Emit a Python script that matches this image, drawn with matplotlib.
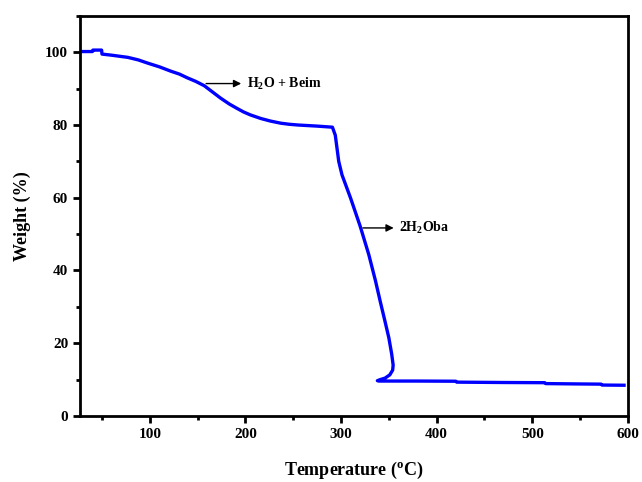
import matplotlib
matplotlib.use("Agg")
import matplotlib.pyplot as plt
from matplotlib.ticker import MultipleLocator

plt.rcParams['font.family'] = 'Liberation Serif'
plt.rcParams['font.weight'] = 'bold'
plt.rcParams['mathtext.fontset'] = 'custom'
plt.rcParams['mathtext.rm'] = 'Liberation Serif:bold'
plt.rcParams['mathtext.it'] = 'Liberation Serif:bold'
plt.rcParams['mathtext.bf'] = 'Liberation Serif:bold'

# TGA curve
temperature = [27, 40, 40.5, 49.6, 50, 60, 77, 88, 98, 110, 122, 131, 139,
               148, 157, 165, 174, 183, 191, 198, 205, 216, 226, 237, 246,
               255, 275, 291, 294, 297.6, 301, 310, 320, 329, 336, 341, 346,
               350, 353, 354.5, 354, 351, 346, 341, 338, 340, 380, 420, 421,
               470, 513, 514, 550, 572, 573, 596]
weight = [100.2, 100.2, 100.6, 100.6, 99.5, 99.2, 98.6, 97.9, 97.0, 96.0,
          94.8, 94.0, 93.0, 92.0, 90.8, 89.2, 87.4, 85.8, 84.6, 83.6, 82.8,
          81.8, 81.1, 80.5, 80.2, 80.0, 79.7, 79.4, 77.2, 70.0, 66.3, 59.9,
          52.2, 44.4, 37.2, 31.5, 26.0, 21.5, 17.0, 14.0, 12.6, 11.3, 10.4,
          10.0, 9.7, 9.6, 9.6, 9.55, 9.3, 9.2, 9.15, 8.9, 8.8, 8.75, 8.5,
          8.45]

xticks = [100, 200, 300, 400, 500, 600]
yticks = [0, 20, 40, 60, 80, 100]

fig = plt.figure(figsize=(6.42, 4.82), dpi=100)
ax = fig.add_axes([0.1246, 0.137, 0.8534, 0.83])

ax.plot(temperature, weight, color='#0000ff', lw=2.4)

ax.set_xlim(27, 600)
ax.set_ylim(0, 110)
ax.set_xticks(xticks)
ax.set_yticks(yticks)
ax.xaxis.set_minor_locator(MultipleLocator(50))
ax.yaxis.set_minor_locator(MultipleLocator(10))
ax.tick_params(which='major', direction='out', length=5, width=2, labelsize=11)
ax.tick_params(which='minor', direction='out', length=3, width=2)
for s in ax.spines.values():
    s.set_linewidth(2)

ax.set_xlabel(r'Temperature ($^{\mathrm{o}}$C)', fontsize=13, fontweight='bold', labelpad=14)
ax.set_ylabel('Weight (%)', fontsize=13, fontweight='bold', labelpad=10)

# annotations
ax.annotate('', xy=(198.5, 91.4), xytext=(156, 91.4),
            arrowprops=dict(arrowstyle='-|>', color='black', lw=1, mutation_scale=11))
ax.text(202, 91.4, r'H$_2$O + Beim', fontsize=10, va='center', ha='left')
ax.annotate('', xy=(358, 51.7), xytext=(320, 51.7),
            arrowprops=dict(arrowstyle='-|>', color='black', lw=1, mutation_scale=11))
ax.text(361, 51.7, r'2H$_2$Oba', fontsize=10, va='center', ha='left')

fig.savefig('out.png', dpi=100)
